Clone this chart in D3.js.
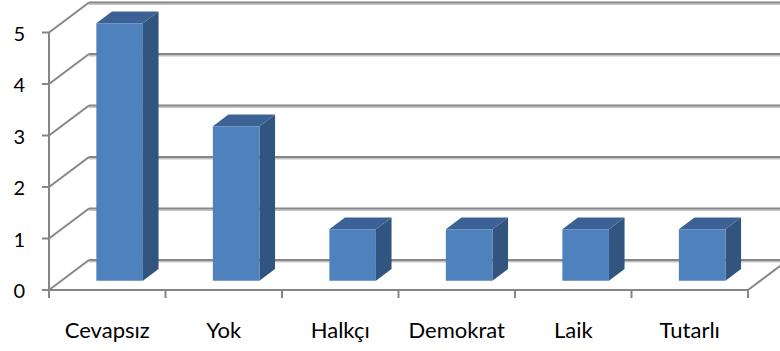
<!DOCTYPE html>
<html>
<head>
<meta charset="utf-8">
<script src="https://cdn.jsdelivr.net/npm/d3@7"></script>
<style>
  html, body { margin: 0; padding: 0; background: #fff; }
  svg { display: block; }
  text { font-family: "Lato", "Open Sans", sans-serif; fill: #000; }
</style>
</head>
<body>
<svg id="chart" width="780" height="351"></svg>
<script>
// Answer counts per category
const categories = ["Cevapsız", "Yok", "Halkçı", "Demokrat", "Laik", "Tutarlı"];
const counts = [5, 3, 1, 1, 1, 1];
const yTicks = [0, 1, 2, 3, 4, 5];

const svg = d3.select("#chart");

// Front plane of the 3D box, and the depth offset to the back wall
const x = d3.scaleBand().domain(categories).range([49, 748])
  .paddingInner(0.6).paddingOuter(0.3);
const xCat = d3.scaleBand().domain(categories).range([49, 748]).padding(0);
const y = d3.scaleLinear().domain([0, 5]).range([290, 32.5]);
const DX = 40, DY = -30;
const P = (px, py, t) => [px + DX * t, py + DY * t];

const grid = "#868686", gridLight = "#c4c4c4";
const line = d3.line();

// Back wall gridlines (with a light shadow line under each)
const backX0 = P(49, 0, 1)[0], backX1 = P(748, 0, 1)[0];
yTicks.forEach(v => {
  const yy = y(v) + DY;
  svg.append("line").attr("x1", backX0).attr("x2", backX1)
    .attr("y1", yy + 1.8).attr("y2", yy + 1.8)
    .attr("stroke", gridLight).attr("stroke-width", 1.5);
  svg.append("line").attr("x1", backX0).attr("x2", backX1)
    .attr("y1", yy).attr("y2", yy)
    .attr("stroke", grid).attr("stroke-width", 2);
});

// Side wall diagonals
yTicks.forEach(v => {
  svg.append("path").attr("d", line([P(49, y(v), 0), P(49, y(v), 1)]))
    .attr("stroke", grid).attr("stroke-width", 2).attr("fill", "none");
});

// Floor front edge, right edge and category tick marks
svg.append("path").attr("d", line([P(49, y(0), 0), P(748, y(0), 0)]))
  .attr("stroke", grid).attr("stroke-width", 2).attr("fill", "none");
svg.append("path").attr("d", line([P(748, y(0), 0), P(748, y(0), 1)]))
  .attr("stroke", grid).attr("stroke-width", 2).attr("fill", "none");
const bounds = categories.map(c => xCat(c)).concat([xCat.range()[1]]);
bounds.forEach(bx => {
  svg.append("line").attr("x1", bx).attr("x2", bx)
    .attr("y1", y(0)).attr("y2", y(0) + 8)
    .attr("stroke", grid).attr("stroke-width", 2);
});

// Value axis line and ticks
svg.append("line").attr("x1", 49).attr("x2", 49)
  .attr("y1", y(5)).attr("y2", y(0))
  .attr("stroke", grid).attr("stroke-width", 2);
yTicks.forEach(v => {
  svg.append("line").attr("x1", 42).attr("x2", 49)
    .attr("y1", y(v)).attr("y2", y(v))
    .attr("stroke", grid).attr("stroke-width", 2);
  svg.append("text").attr("x", 25).attr("y", y(v))
    .attr("text-anchor", "end").attr("dominant-baseline", "central")
    .attr("font-size", 20).text(v);
});

// 3D bars: front face, top face, right side face
const t0 = 0.31, t1 = 0.70;
const frontFill = "#4f81bd", topFill = "#3c6295", sideFill = "#32557f";
categories.forEach((c, i) => {
  const xl = x(c), xr = x(c) + x.bandwidth();
  const yb = y(0), yt = y(counts[i]);
  const g = svg.append("g");
  g.append("path").attr("fill", sideFill).attr("d", line([
    P(xr, yb, t0), P(xr, yb, t1), P(xr, yt, t1), P(xr, yt, t0)]) + "Z");
  g.append("path").attr("fill", topFill).attr("d", line([
    P(xl, yt, t0), P(xr, yt, t0), P(xr, yt, t1), P(xl, yt, t1)]) + "Z");
  g.append("path").attr("fill", frontFill).attr("d", line([
    P(xl, yb, t0), P(xr, yb, t0), P(xr, yt, t0), P(xl, yt, t0)]) + "Z");
});

// Category labels
categories.forEach(c => {
  svg.append("text").attr("x", xCat(c) + xCat.bandwidth() / 2).attr("y", 338)
    .attr("text-anchor", "middle").attr("font-size", 22).text(c);
});
</script>
</body>
</html>
